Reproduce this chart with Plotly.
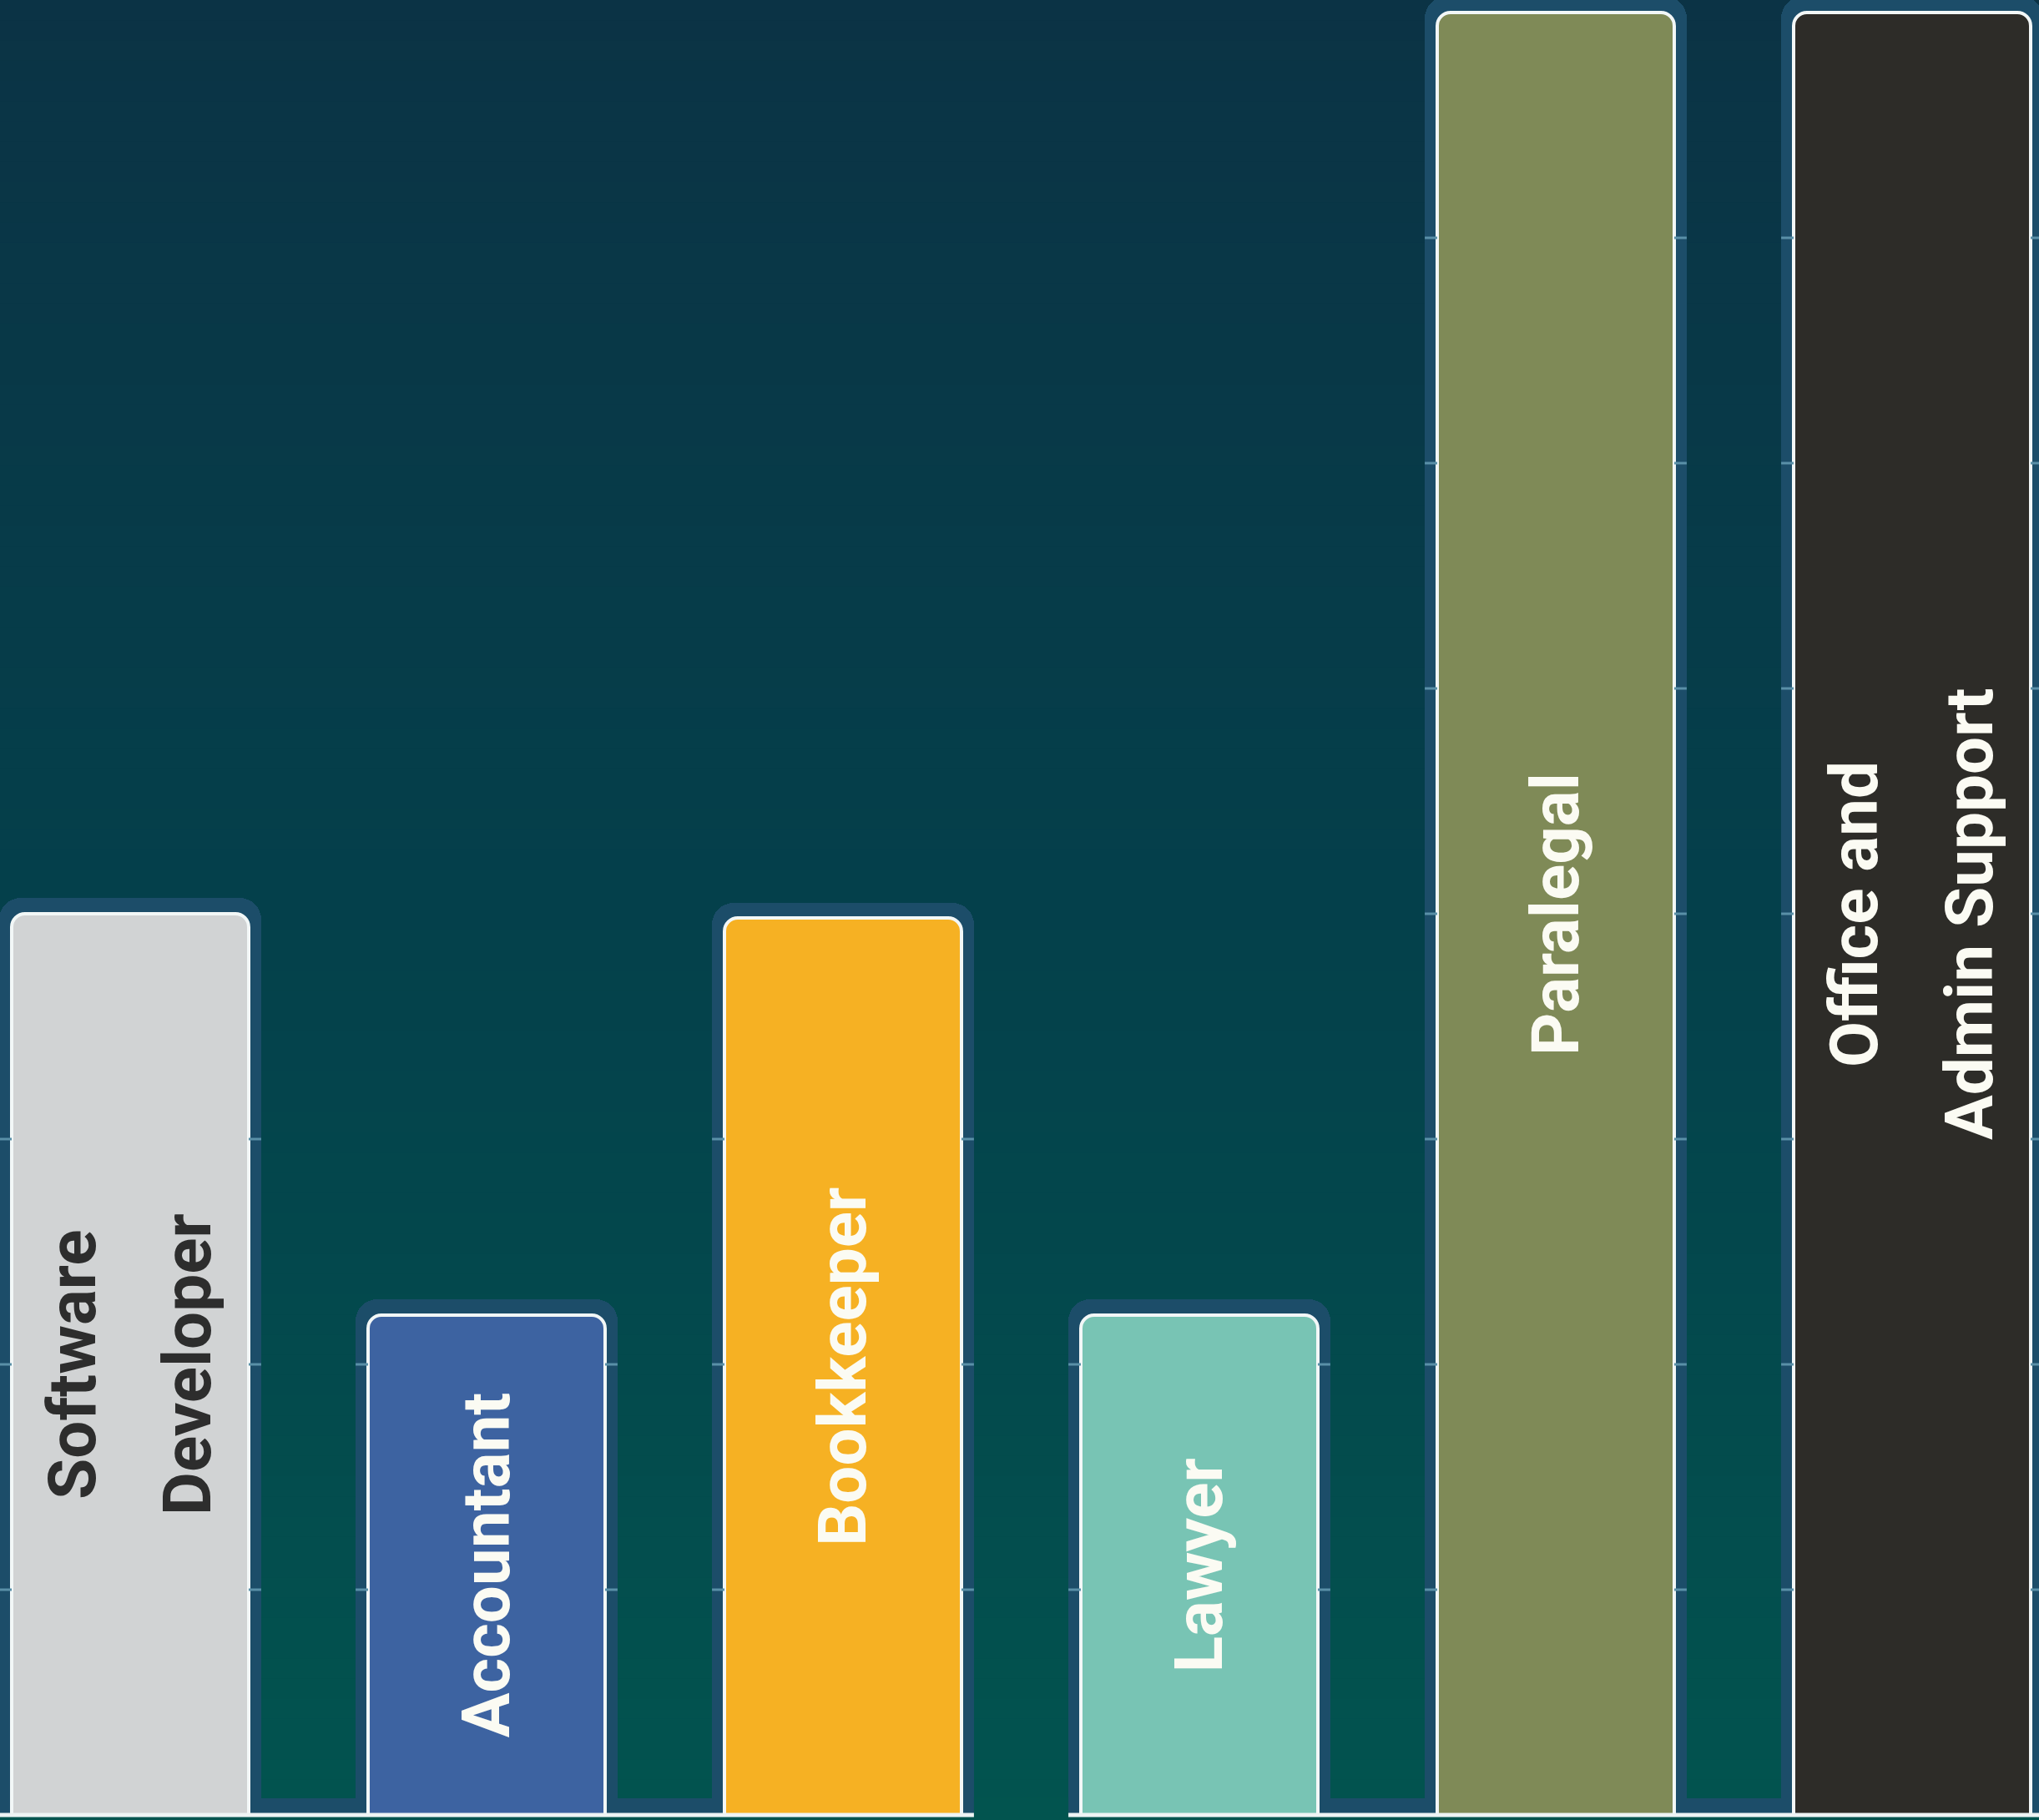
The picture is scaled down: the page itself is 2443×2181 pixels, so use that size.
import plotly.graph_objects as go

# ---- data ----
categories = ["Software Developer", "Accountant", "Bookkeeper", "Lawyer",
              "Paralegal", "Office and Admin Support"]
label_lines = [["Software", "Developer"], ["Accountant"], ["Bookkeeper"],
               ["Lawyer"], ["Paralegal"], ["Office and", "Admin Support"]]
values = [20, 11.1, 19.9, 11.1, 40, 40]
bar_colors = ["#d1d3d4", "#3d63a1", "#f6b123", "#78c4b4", "#7f8a57", "#2d2c28"]
label_colors = ["#2d2d2d", "#fbfbf3", "#fbfbf3", "#fbfbf3", "#fbfbf3", "#fbfbf3"]
grid_values = [5, 10, 15, 20, 25, 30, 35, 40]

# ---- style ----
W, H = 2443, 2181
BAR_W = 0.665
HALO_W = 0.735
HALO_PAD = 0.35
HALO_COLOR = "#1c4d69"
GRID_COLOR = "#5a90a8"
X_RANGE = [-0.3653, 5.356]
Y_RANGE = [-0.111, 40.278]
FONT = "Roboto, Liberation Sans, sans-serif"
FONT_SIZE = 80
LINE_GAP = 69  # px offset of each line in two-line labels

fig = go.Figure()

# halo (glow) bars behind the main bars
fig.add_trace(go.Bar(
    x=categories, y=[v + HALO_PAD for v in values], width=HALO_W,
    marker=dict(color=HALO_COLOR, cornerradius=26, line=dict(width=0)),
    hoverinfo="skip", showlegend=False, xaxis="x", yaxis="y",
))
# main bars (on an overlaying axis so each bar keeps its own rounded corners)
fig.add_trace(go.Bar(
    x=categories, y=values, width=BAR_W,
    marker=dict(color=bar_colors, cornerradius=16,
                line=dict(color="#f2f7f7", width=4)),
    showlegend=False, hovertemplate="%{x}: %{y}<extra></extra>",
    xaxis="x2", yaxis="y",
))

shapes = []
# vertical background gradient (paper space)
stops = [(0.0, (11, 51, 69)), (0.5, (4, 64, 75)), (1.0, (2, 84, 79))]

def grad(t):
    for (t0, c0), (t1, c1) in zip(stops[:-1], stops[1:]):
        if t0 <= t <= t1:
            f = (t - t0) / (t1 - t0)
            return "rgb(%d,%d,%d)" % tuple(round(a + (b - a) * f) for a, b in zip(c0, c1))
    return "rgb(%d,%d,%d)" % stops[-1][1]

N = 90
for k in range(N):
    top = 1 - k / N
    bot = 1 - (k + 1) / N
    shapes.append(dict(type="rect", xref="paper", yref="paper", x0=0, x1=1,
                       y0=bot - 0.002, y1=top, fillcolor=grad((k + 0.5) / N),
                       line=dict(width=0), layer="below"))

# halo band along the bottom
shapes.append(dict(type="rect", xref="paper", yref="y", x0=0, x1=1,
                   y0=0, y1=HALO_PAD + 0.02, fillcolor=HALO_COLOR,
                   line=dict(width=0), layer="below"))

# gridline fragments visible only inside each bar's halo
for i, v in enumerate(values):
    for g in grid_values:
        if g < v - 0.3:
            for a, b in [(i - HALO_W / 2, i - BAR_W / 2), (i + BAR_W / 2, i + HALO_W / 2)]:
                shapes.append(dict(type="line", xref="x", yref="y", x0=a, x1=b,
                                   y0=g, y1=g, line=dict(color=GRID_COLOR, width=3),
                                   layer="above"))

# white baseline
shapes.append(dict(type="line", xref="paper", yref="y", x0=0, x1=1, y0=0, y1=0,
                   line=dict(color="#eef4f4", width=5), layer="above"))
# gap in baseline between Bookkeeper and Lawyer halos
shapes.append(dict(type="rect", xref="x", yref="y",
                   x0=2 + HALO_W / 2, x1=3 - HALO_W / 2,
                   y0=Y_RANGE[0] - 0.5, y1=HALO_PAD + 0.05,
                   fillcolor="rgb(2,84,79)", line=dict(width=0), layer="above"))

# rotated labels centred in the bars
annotations = []
for i, (lines, v, col) in enumerate(zip(label_lines, values, label_colors)):
    n = len(lines)
    for j, txt in enumerate(lines):
        shift = (j - (n - 1) / 2) * 2 * LINE_GAP
        annotations.append(dict(
            x=categories[i], y=v / 2, xref="x", yref="y", text=txt,
            textangle=-90, showarrow=False, xanchor="center", yanchor="middle",
            xshift=shift,
            font=dict(family=FONT, size=FONT_SIZE, color=col, weight="bold"),
        ))

axis_common = dict(range=X_RANGE, showgrid=False, zeroline=False, showticklabels=False,
                   showline=False, ticks="", fixedrange=True)
fig.update_layout(
    width=W, height=H,
    margin=dict(l=0, r=0, t=0, b=0, pad=0),
    paper_bgcolor="rgb(4,64,75)",
    plot_bgcolor="rgba(0,0,0,0)",
    barmode="overlay",
    bargap=0,
    showlegend=False,
    shapes=shapes,
    annotations=annotations,
    xaxis=axis_common,
    xaxis2=dict(axis_common, overlaying="x", matches="x"),
    yaxis=dict(range=Y_RANGE, showgrid=False, zeroline=False, showticklabels=False,
               showline=False, ticks="", fixedrange=True),
)

fig.write_html("out.html", config={"displayModeBar": False},
               post_script="document.body.style.margin='0';document.body.style.overflow='hidden';")
